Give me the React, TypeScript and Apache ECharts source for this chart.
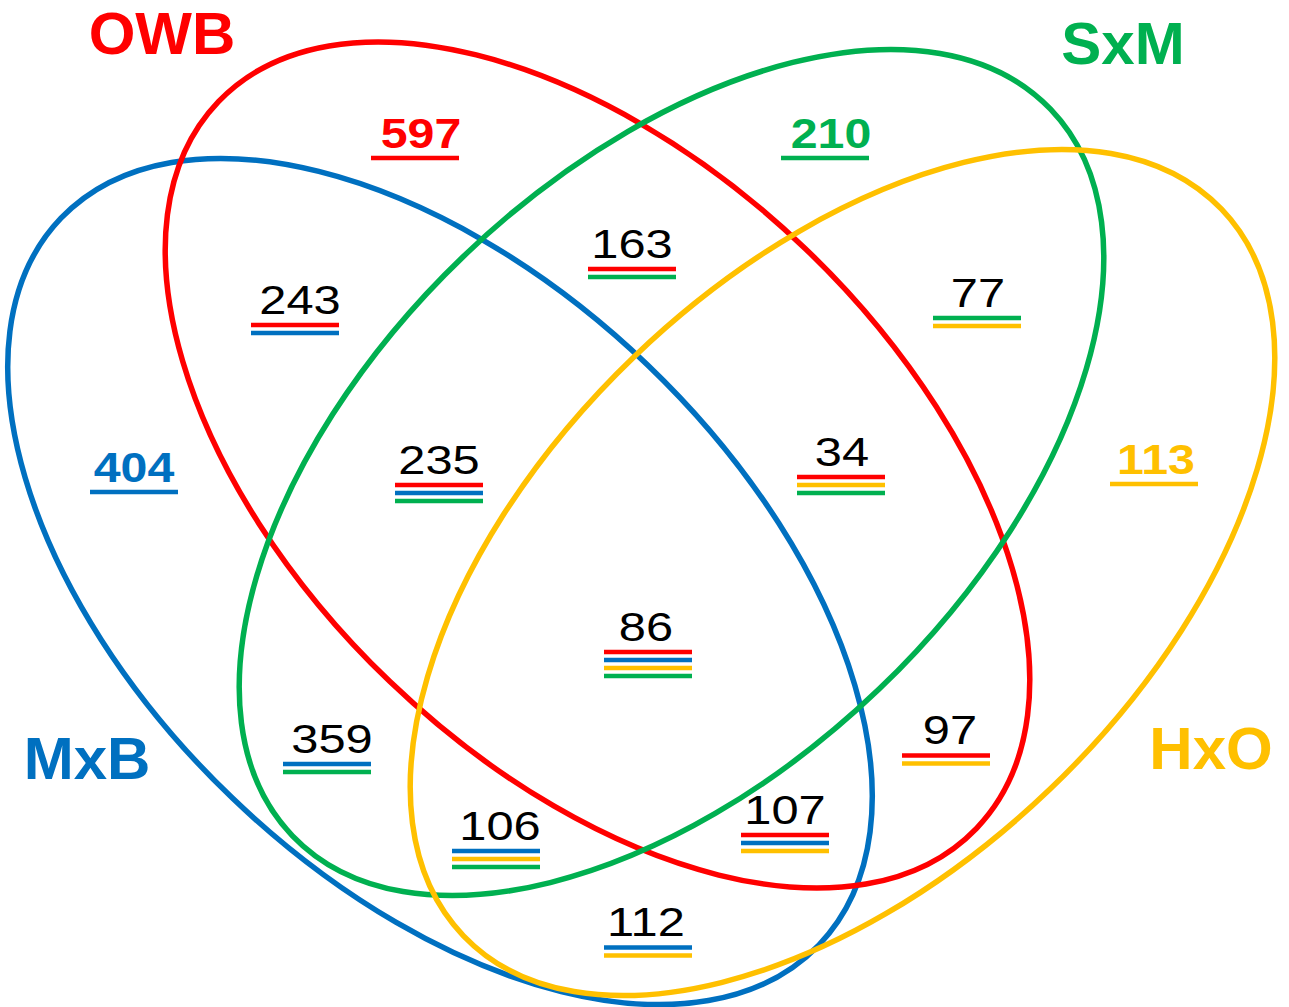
import React, { useEffect, useRef } from "react";
import * as echarts from "echarts";

// Sets
const setNames = ["OWB", "MxB", "HxO", "SxM"];
const setColors = ["#FF0000", "#0070C0", "#FFC000", "#00B050"];

// Region counts and their memberships (listed in the underline order of the picture)
const regionValues = [597, 210, 404, 113, 243, 163, 77, 235, 34, 86, 359, 97, 106, 107, 112];
const regionSets = [
  ["OWB"],
  ["SxM"],
  ["MxB"],
  ["HxO"],
  ["OWB", "MxB"],
  ["OWB", "SxM"],
  ["SxM", "HxO"],
  ["OWB", "MxB", "SxM"],
  ["OWB", "HxO", "SxM"],
  ["OWB", "MxB", "HxO", "SxM"],
  ["MxB", "SxM"],
  ["OWB", "HxO"],
  ["MxB", "HxO", "SxM"],
  ["OWB", "MxB", "HxO"],
  ["MxB", "HxO"],
];

// ---- layout (positions only) ----
const ellipseCentres = [
  [597.5, 465],
  [440, 581.5],
  [842.5, 572.5],
  [671.5, 472.5],
];
const ellipseTilt = [1, 1, -1, -1]; // +1: upper-left to lower-right
const ELL_A = 525;
const ELL_B = 300;
const ELL_ANGLE = (43.75 * Math.PI) / 180;

const titlePos = [
  [162, 33],
  [87, 758],
  [1211, 748],
  [1123, 43],
];

// underline centre x, first underline y, text x offset
const labelPos = [
  [415, 158, 6],
  [825, 158, 6],
  [134, 492, 0],
  [1154, 484, 2],
  [295, 325, 5],
  [632, 269, 0],
  [977, 318, 1],
  [439, 485, 0],
  [841, 477, 1],
  [648, 652, -2],
  [327, 764, 5],
  [946, 755.5, 4],
  [496, 851, 4],
  [785, 835, 0],
  [648, 947.5, -2],
];

const FONT = "'Liberation Sans', Arial, Helvetica, sans-serif";

function buildGraphics() {
  const els: any[] = [];
  const drawOrder = [1, 0, 3, 2];
  drawOrder.forEach((i) => {
    const [cx, cy] = ellipseCentres[i];
    els.push({
      type: "ellipse",
      x: cx,
      y: cy,
      rotation: -ellipseTilt[i] * ELL_ANGLE,
      shape: { cx: 0, cy: 0, rx: ELL_A, ry: ELL_B },
      style: { fill: "none", stroke: setColors[i], lineWidth: 5.5 },
      silent: true,
    });
  });
  setNames.forEach((name, i) => {
    els.push({
      type: "text",
      x: titlePos[i][0],
      y: titlePos[i][1],
      style: {
        text: name,
        fill: setColors[i],
        fontFamily: FONT,
        fontSize: 60,
        lineHeight: 50,
        fontWeight: "bold",
        align: "center",
        verticalAlign: "middle",
      },
    });
  });
  regionValues.forEach((v, k) => {
    const sets = regionSets[k];
    const [ux, uy, dx] = labelPos[k];
    const single = sets.length === 1;
    const colorIdx = single ? setNames.indexOf(sets[0]) : -1;
    els.push({
      type: "text",
      x: ux + dx,
      y: uy - (single ? 24 : 25),
      scaleX: single ? 1.15 : 1.22,
      style: {
        text: String(v),
        fill: single ? setColors[colorIdx] : "#000000",
        fontFamily: FONT,
        fontSize: single ? 42 : 40,
        lineHeight: 34,
        fontWeight: single ? "bold" : "normal",
        align: "center",
        verticalAlign: "middle",
      },
    });
    sets.forEach((n, j) => {
      els.push({
        type: "rect",
        shape: { x: ux - 44, y: uy + j * 8 - 2.25, width: 88, height: 4.5 },
        style: { fill: setColors[setNames.indexOf(n)] },
        silent: true,
      });
    });
  });
  return els;
}

export default function App() {
  const ref = useRef<HTMLDivElement>(null);
  useEffect(() => {
    if (!ref.current) return;
    const chart = echarts.init(ref.current, null, { renderer: "svg" });
    chart.setOption({
      animation: false,
      backgroundColor: "#ffffff",
      graphic: { elements: buildGraphics() },
    });
    return () => chart.dispose();
  }, []);
  return (
    <div
      ref={ref}
      style={{ position: "absolute", left: 0, top: 0, width: 1289, height: 1007 }}
    />
  );
}
